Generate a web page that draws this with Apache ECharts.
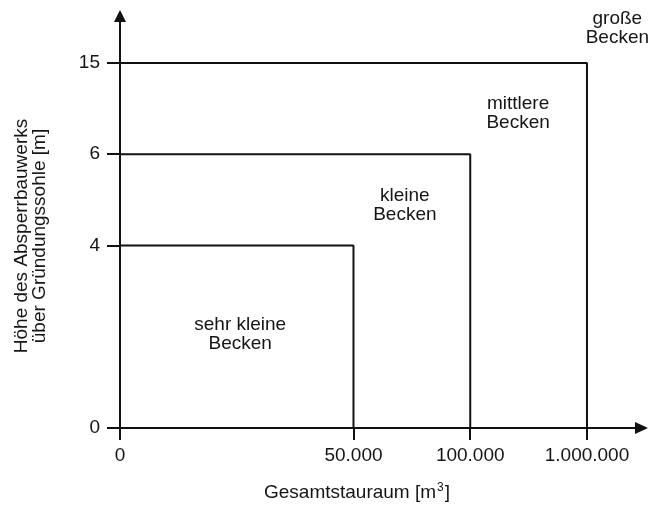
<!DOCTYPE html>
<html>
<head>
<meta charset="utf-8">
<script src="https://cdn.jsdelivr.net/npm/echarts@6/dist/echarts.min.js"></script>
<style>
  html, body { margin: 0; padding: 0; background: #fff; }
  #chart { width: 653px; height: 506px; }
</style>
</head>
<body>
<div id="chart"></div>
<script>
// ---- data ----
const volumeLimits = [0, 50000, 100000, 1000000];      // Gesamtstauraum [m3]
const heightLimits = [0, 4, 6, 15];                     // Höhe [m]
const xTickLabels = ['0', '50.000', '100.000', '1.000.000'];
const yTickLabels = ['0', '4', '6', '15'];
const classNames = ['sehr kleine\nBecken', 'kleine\nBecken', 'mittlere\nBecken', 'große\nBecken'];

// ---- non-linear (piecewise) axis scale ----
const scaleSteps = [0, 2, 3, 4];
function piecewise(v, limits) {
  for (let i = 1; i < limits.length; i++) {
    if (v <= limits[i]) {
      const t = (v - limits[i - 1]) / (limits[i] - limits[i - 1]);
      return scaleSteps[i - 1] + t * (scaleSteps[i] - scaleSteps[i - 1]);
    }
  }
  return scaleSteps[scaleSteps.length - 1];
}
const sx = v => piecewise(v, volumeLimits);
const sy = v => piecewise(v, heightLimits);

const FONT = "'Liberation Sans', Arial, sans-serif";
const TXT = '#151515';
const LINE = '#111';

// boundary lines of the classes
const boundarySeries = [];
for (let i = 1; i < volumeLimits.length; i++) {
  const v = volumeLimits[i], h = heightLimits[i];
  boundarySeries.push({
    type: 'line',
    silent: true,
    symbol: 'none',
    lineStyle: { color: LINE, width: 2 },
    data: [[sx(0), sy(h)], [sx(v), sy(h)], [sx(v), sy(0)]]
  });
}

// label anchors (layout, in axis units)
const labelAnchor = [[1.03, 1.03], [2.44, 2.44], [3.41, 3.45], [4.26, 4.38]];

const chart = echarts.init(document.getElementById('chart'), null, { renderer: 'canvas' });
chart.setOption({
  animation: false,
  backgroundColor: '#fff',
  grid: { left: 120, right: 11.5, top: 16, bottom: 78, containLabel: false },
  xAxis: {
    type: 'value', min: 0, max: 4.467,
    axisLine: { show: true, onZero: false, symbol: ['none', 'triangle'], symbolSize: [12, 13],
      lineStyle: { color: LINE, width: 2 } },
    axisTick: { show: true, customValues: scaleSteps, length: 12, lineStyle: { color: LINE, width: 2 } },
    axisLabel: { customValues: scaleSteps, margin: 18, fontSize: 19, fontFamily: FONT, color: TXT,
      formatter: v => xTickLabels[scaleSteps.indexOf(v)] },
    splitLine: { show: false }
  },
  yAxis: {
    type: 'value', min: 0, max: 4.515,
    axisLine: { show: true, onZero: false, symbol: ['none', 'triangle'], symbolSize: [12, 12],
      lineStyle: { color: LINE, width: 2 } },
    axisTick: { show: true, customValues: scaleSteps, length: 13, lineStyle: { color: LINE, width: 2 } },
    axisLabel: { customValues: scaleSteps, margin: 20, fontSize: 19, fontFamily: FONT, color: TXT,
      formatter: v => yTickLabels[scaleSteps.indexOf(v)] },
    splitLine: { show: false }
  },
  graphic: [
    {
      type: 'text', x: 31, y: 236, rotation: Math.PI / 2,
      style: {
        text: 'Höhe des Absperrbauwerks\nüber Gründungssohle [m]',
        font: '19px ' + FONT, fill: TXT, align: 'center', verticalAlign: 'middle', lineHeight: 18
      }
    },
    {
      type: 'text', x: 357, y: 493,
      style: {
        text: '{a|Gesamtstauraum [m}{s|3}{a|]}',
        align: 'center', verticalAlign: 'middle',
        rich: {
          a: { fontSize: 19, fontFamily: FONT, fill: TXT, color: TXT },
          s: { fontSize: 12, fontFamily: FONT, fill: TXT, color: TXT, padding: [0, 1, 10, 1] }
        }
      }
    }
  ],
  series: boundarySeries.concat([{
    type: 'scatter',
    silent: true,
    symbolSize: 0,
    itemStyle: { opacity: 1 },
    data: classNames.map((n, i) => ({ name: n, value: labelAnchor[i] })),
    label: {
      show: true, position: 'inside', formatter: p => p.name, opacity: 1,
      fontSize: 19, fontFamily: FONT, color: TXT, lineHeight: 19, align: 'center'
    }
  }])
});
</script>
</body>
</html>
